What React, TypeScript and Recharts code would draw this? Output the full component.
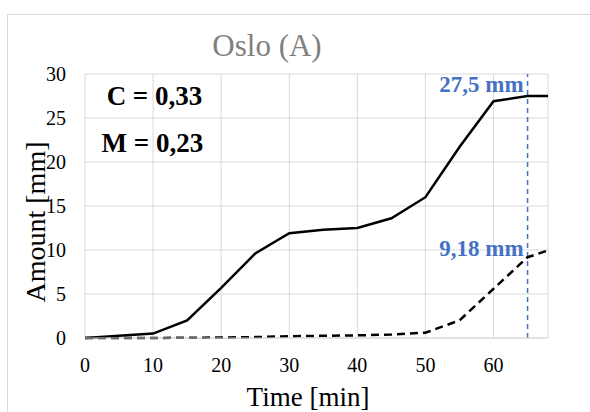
import { LineChart, Line, XAxis, YAxis, CartesianGrid, ReferenceLine, ReferenceDot } from 'recharts';

const timeMin = [0, 5, 10, 15, 20, 25, 30, 35, 40, 45, 50, 55, 60, 65, 68];
const solidAmount = [0, 0.25, 0.5, 2.0, 5.7, 9.6, 11.9, 12.3, 12.5, 13.6, 16.0, 21.7, 26.9, 27.5, 27.5];
const dashedAmount = [0, 0, 0, 0.03, 0.05, 0.1, 0.2, 0.25, 0.3, 0.4, 0.6, 2.0, 5.6, 9.18, 9.95];
const xTicks = [0, 10, 20, 30, 40, 50, 60];
const yTicks = [0, 5, 10, 15, 20, 25, 30];
const markerTime = 65;
const solidLabel = '27,5 mm';
const dashedLabel = '9,18 mm';

const data = timeMin.map((t, i) => ({ t, solid: solidAmount[i], dashed: dashedAmount[i] }));

const FONT = '"Liberation Serif", "Times New Roman", serif';
const BLUE = '#4472C4';

function blueLabel(text: string, dy: number) {
  return (props: any) => {
    const vb = props.viewBox || {};
    const cx = vb.x + (vb.width || 0) / 2;
    const cy = vb.y + (vb.height || 0) / 2;
    return (
      <text x={cx - 4} y={cy + dy} textAnchor="end" fill={BLUE} fontFamily={FONT} fontWeight="bold" fontSize={23}>
        {text}
      </text>
    );
  };
}

export default function App() {
  return (
    <div style={{ position: 'absolute', left: 0, top: 0, width: 590, height: 412, overflow: 'hidden', background: '#fff' }}>
      <div style={{ position: 'absolute', left: 7, top: 14, width: 700, height: 500, border: '1px solid #d9d9d9' }} />
      <div style={{ position: 'absolute', left: 0, top: 0 }}>
        <LineChart width={590} height={412} data={data} margin={{ top: 74, right: 42, left: 0, bottom: 0 }}>
          <text x={267} y={56} textAnchor="middle" fill="#808080" fontFamily={FONT} fontSize={31}>Oslo (A)</text>
          <CartesianGrid stroke="#d9d9d9" strokeWidth={1} />
          <XAxis
            dataKey="t"
            type="number"
            domain={[0, 68]}
            ticks={xTicks}
            allowDataOverflow
            height={74}
            tickSize={0}
            tickMargin={20}
            axisLine={{ stroke: '#d9d9d9' }}
            tickLine={false}
            tick={{ fill: '#000', fontFamily: FONT, fontSize: 20 }}
            label={{ content: () => (
              <text x={308} y={406} textAnchor="middle" fill="#000" fontFamily={FONT} fontSize={27}>Time [min]</text>
            ) }}
          />
          <YAxis
            type="number"
            domain={[0, 30]}
            ticks={yTicks}
            width={85}
            tickSize={0}
            tickMargin={19}
            axisLine={false}
            tickLine={false}
            tick={{ fill: '#000', fontFamily: FONT, fontSize: 20 }}
            label={{ content: () => (
              <text transform="translate(45,222) rotate(-90)" textAnchor="middle" fill="#000" fontFamily={FONT} fontSize={28}>Amount [mm]</text>
            ) }}
          />
          <ReferenceLine x={markerTime} stroke={BLUE} strokeWidth={1.5} strokeDasharray="5 4" />
          <Line type="linear" dataKey="solid" stroke="#000" strokeWidth={2.5} dot={false} isAnimationActive={false} />
          <Line type="linear" dataKey="dashed" stroke="#000" strokeWidth={2.5} strokeDasharray="8 5" dot={false} isAnimationActive={false} />
          <ReferenceDot x={markerTime} y={27.5} r={1} fillOpacity={0} stroke="none" label={blueLabel(solidLabel, -4)} />
          <ReferenceDot x={markerTime} y={9.18} r={1} fillOpacity={0} stroke="none" label={blueLabel(dashedLabel, -1)} />
          <ReferenceDot x={10.2} y={27.6} r={1} fillOpacity={0} stroke="none"
            label={{ value: 'C = 0,33', position: 'center', fill: '#000', fontFamily: FONT, fontWeight: 'bold', fontSize: 27 }} />
          <ReferenceDot x={9.9} y={22.2} r={1} fillOpacity={0} stroke="none"
            label={{ value: 'M = 0,23', position: 'center', fill: '#000', fontFamily: FONT, fontWeight: 'bold', fontSize: 27 }} />
        </LineChart>
      </div>
    </div>
  );
}
